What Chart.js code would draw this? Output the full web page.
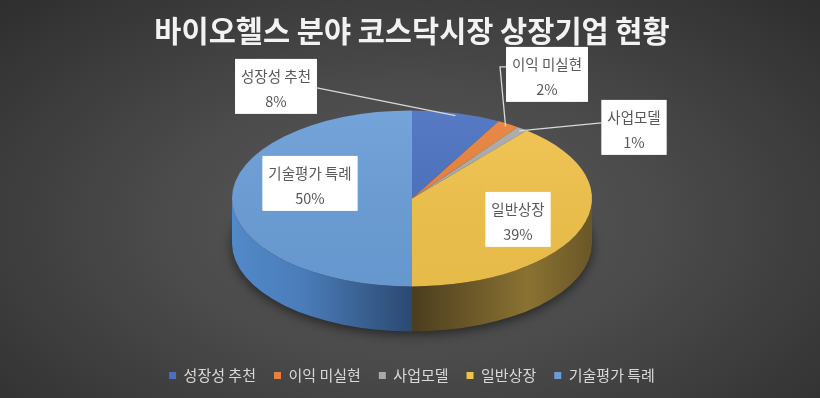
<!DOCTYPE html>
<html>
<head>
<meta charset="utf-8">
<script src="https://cdn.jsdelivr.net/npm/chart.js"></script>
<style>
    html, body { margin: 0; padding: 0; }
    #wrap {
        width: 820px;
        height: 398px;
        background: radial-gradient(ellipse 70% 80% at 50% 56%, #5c5c5c 0%, #4a4a4a 45%, #2e2e2e 100%);
    }
</style>
</head>
<body>
<div id="wrap"><canvas id="pieChart" width="820" height="398"></canvas></div>
<script>
const chartTitle = '바이오헬스 분야 코스닥시장 상장기업 현황';
const categories = ['성장성 추천', '이익 미실현', '사업모델', '일반상장', '기술평가 특례'];
const shares = [8, 2, 1, 39, 50];

const FONT = '"Noto Sans CJK KR", "Noto Sans", sans-serif';
const topColors = ['#4a70bf', '#e8813a', '#a9a9a9', '#f0c24b', '#6a9dd6'];
// side (depth) gradient stops, left -> right across the pie
const sideStops = [
    [[0, '#3b5a9a'], [1, '#2a4070']],
    [[0, '#b8642c'], [1, '#8a4a20']],
    [[0, '#8a8a8a'], [1, '#666666']],
    [[0, '#6a5628'], [0.5, '#4b3d1e'], [0.82, '#8a7232'], [1, '#6a5727']],
    [[0, '#5289c8'], [0.2, '#4a7cb9'], [0.5, '#2b4970'], [1, '#2b4970']]
];
const PIE = { rx: 180, ry: 88, depth: 45 };

// label box centre, offset from the pie centre; leader = where the line leaves the box
const labelLayout = [
    { dx: -136, dy: -112, leader: 'right' },
    { dx: 135, dy: -124, leader: 'elbow' },
    { dx: 222, dy: -71, leader: 'left' },
    { dx: 106, dy: 21, leader: null },
    { dx: -102, dy: -15, leader: null }
];

function sideGradient(ctx, i, cx) {
    const g = ctx.createLinearGradient(cx - PIE.rx, 0, cx + PIE.rx, 0);
    sideStops[i].forEach(s => g.addColorStop(s[0], s[1]));
    return g;
}

function drawLabels(chart) {
    const ctx = chart.ctx;
    const { cx, cy } = chart.$pie;
    const arcs = chart.getDatasetMeta(0).data;
    const total = shares.reduce((a, b) => a + b, 0);
    ctx.save();
    ctx.font = '14.5px ' + FONT;
    arcs.forEach((arc, i) => {
        const L = labelLayout[i];
        const pct = Math.round(shares[i] / total * 100) + '%';
        const w = Math.max(ctx.measureText(categories[i]).width, ctx.measureText(pct).width) + 12;
        const h = 55;
        const bx = cx + L.dx - w / 2, by = cy + L.dy - h / 2;
        if (L.leader) {
            const m = (arc.startAngle + arc.endAngle) / 2;
            const ax = cx + PIE.rx * 0.97 * Math.cos(m);
            const ay = cy + PIE.ry * 0.97 * Math.sin(m);
            ctx.strokeStyle = '#d9d9d9';
            ctx.lineWidth = 1.3;
            ctx.beginPath();
            if (L.leader === 'right') {
                ctx.moveTo(bx + w, by + 29);
            } else if (L.leader === 'left') {
                ctx.moveTo(bx, by + 23);
            } else {
                ctx.moveTo(bx, by + 20);
                ctx.lineTo(bx - 6, by + 20);
            }
            ctx.lineTo(ax, ay);
            ctx.stroke();
        }
        ctx.fillStyle = '#ffffff';
        ctx.fillRect(bx, by, w, h);
        ctx.fillStyle = '#595959';
        ctx.textAlign = 'center';
        ctx.textBaseline = 'middle';
        ctx.fillText(categories[i], bx + w / 2, by + 18);
        ctx.fillText(pct, bx + w / 2, by + 43);
    });
    ctx.restore();
}

// squash the pie into an ellipse and give it a visible side
const pie3d = {
    id: 'pie3d',
    beforeDatasetsDraw(chart) {
        const { ctx, chartArea } = chart;
        const arcs = chart.getDatasetMeta(0).data;
        const cx = (chartArea.left + chartArea.right) / 2;
        const cy = chartArea.top + PIE.ry;
        chart.$pie = { cx, cy };

        // soft shadow under the pie
        ctx.save();
        ctx.shadowColor = 'rgba(0,0,0,0.55)';
        ctx.shadowBlur = 12;
        ctx.shadowOffsetY = 3;
        ctx.fillStyle = '#2b2b2b';
        ctx.beginPath();
        ctx.ellipse(cx, cy + PIE.depth, PIE.rx, PIE.ry, 0, 0, Math.PI * 2);
        ctx.fill();
        ctx.restore();

        arcs.forEach((arc, i) => {
            const s = Math.max(arc.startAngle, 0);
            const e = Math.min(arc.endAngle, Math.PI);
            if (e <= s) return;
            ctx.beginPath();
            ctx.ellipse(cx, cy, PIE.rx, PIE.ry, 0, s, e);
            ctx.ellipse(cx, cy + PIE.depth, PIE.rx, PIE.ry, 0, e, s, true);
            ctx.closePath();
            ctx.fillStyle = sideGradient(ctx, i, cx);
            ctx.fill();
        });

        const a0 = arcs[0];
        ctx.save();
        ctx.translate(cx, cy);
        ctx.scale(PIE.rx / a0.outerRadius, PIE.ry / a0.outerRadius);
        ctx.translate(-a0.x, -a0.y);
    },
    afterDatasetsDraw(chart) {
        const ctx = chart.ctx;
        ctx.restore();
        const { cx, cy } = chart.$pie;
        // light from the top
        const g = ctx.createLinearGradient(0, cy - PIE.ry, 0, cy + PIE.ry);
        g.addColorStop(0, 'rgba(255,255,255,0.07)');
        g.addColorStop(1, 'rgba(0,0,0,0.04)');
        ctx.fillStyle = g;
        ctx.beginPath();
        ctx.ellipse(cx, cy, PIE.rx, PIE.ry, 0, 0, Math.PI * 2);
        ctx.fill();
        drawLabels(chart);
    }
};

const ctx = document.getElementById('pieChart').getContext('2d');
const pieChart = new Chart(ctx, {
    type: 'pie',
    data: {
        labels: categories,
        datasets: [{
            data: shares,
            backgroundColor: topColors,
            borderWidth: 0
        }]
    },
    options: {
        responsive: false,
        animation: false,
        events: [],
        layout: {
            padding: { left: 4, right: 0, top: 0, bottom: 5 }
        },
        plugins: {
            title: {
                display: true,
                text: chartTitle,
                color: '#f2f2f2',
                font: { family: FONT, size: 29.5, weight: 'bold' },
                padding: { top: 13, bottom: 62 }
            },
            legend: {
                position: 'bottom',
                labels: {
                    color: '#d9d9d9',
                    font: { family: FONT, size: 15 },
                    boxWidth: 7,
                    boxHeight: 7,
                    padding: 18
                }
            },
            tooltip: { enabled: false }
        }
    },
    plugins: [pie3d]
});
</script>
</body>
</html>
